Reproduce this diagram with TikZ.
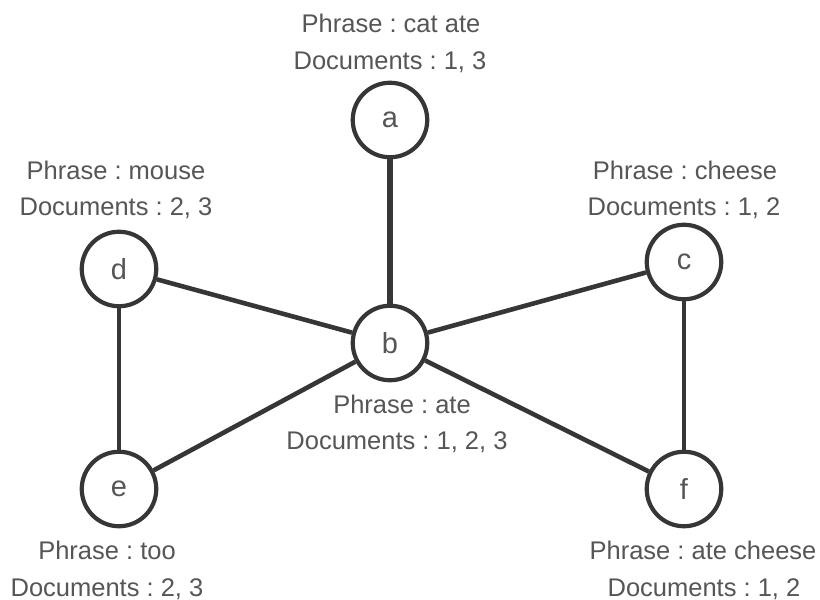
\documentclass[tikz,border=0pt]{standalone}
\usepackage{fontspec}
\setmainfont{Liberation Sans}
\frenchspacing
\definecolor{edgegray}{HTML}{363636}
\definecolor{textgray}{HTML}{565656}
\begin{document}
\begin{tikzpicture}[x=1pt,y=-1pt,
  vertex/.style={circle,draw=edgegray,line width=4.2pt,fill=white,
    minimum size=74.5pt,inner sep=0pt,text=textgray,
    font=\fontsize{29}{32}\selectfont},
  link/.style={draw=edgegray,line width=4.6pt},
  caption/.style={text=textgray,inner sep=0pt,anchor=center,
    text height=18.3pt,text depth=0pt,
    font=\fontsize{25.5}{30}\selectfont}]
  \useasboundingbox (0,0) rectangle (820,600);
  \fill[white] (0,0) rectangle (820,600);

  % vertices
  \node[vertex] (a) at (390,120) {a};
  \node[vertex] (b) at (390,343) {b};
  \node[vertex] (c) at (684,262) {c};
  \node[vertex] (d) at (119,269) {d};
  \node[vertex] (e) at (119,489) {e};
  \node[vertex] (f) at (684,489) {f};

  % edges
  \draw[link,line width=5.4pt] (a) -- (b);
  \draw[link] (d) -- (b);
  \draw[link] (c) -- (b);
  \draw[link] (e) -- (b);
  \draw[link] (f) -- (b);
  \draw[link] (d) -- (e);
  \draw[link] (c) -- (f);

  % phrase / document labels
  \node[caption] (pa) at (391,23)  {Phrase : cat ate};
  \node[caption] (da) at (390,60)  {Documents : 1, 3};
  \node[caption] (pd) at (116,170) {Phrase : mouse};
  \node[caption] (dd) at (116,206) {Documents : 2, 3};
  \node[caption] (pc) at (685,170) {Phrase : cheese};
  \node[caption] (dc) at (684,206) {Documents : 1, 2};
  \node[caption] (pb) at (402,404) {Phrase : ate};
  \node[caption] (db) at (397,440) {Documents : 1, 2, 3};
  \node[caption] (pe) at (107,550) {Phrase : too};
  \node[caption] (de) at (107,587) {Documents : 2, 3};
  \node[caption] (pf) at (703,550) {Phrase : ate cheese};
  \node[caption] (df) at (704,587) {Documents : 1, 2};
\end{tikzpicture}
\end{document}
